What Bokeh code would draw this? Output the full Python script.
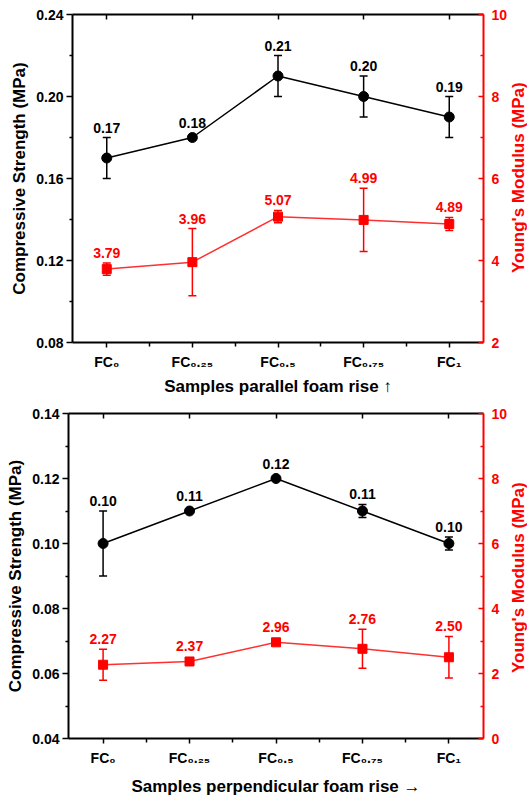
from bokeh.plotting import figure
from bokeh.models import Range1d, LinearAxis, FixedTicker, NumeralTickFormatter, Div
from bokeh.layouts import column, row
from bokeh.embed import file_html
from bokeh.resources import INLINE
from bokeh.core.properties import value

# ---------------- data ----------------
cat_x = [0, 1, 2, 3, 4]
cat_labels = ["FC\u2080", "FC\u2080.\u2082\u2085", "FC\u2080.\u2085", "FC\u2080.\u2087\u2085", "FC\u2081"]
cat_minor = [0.5, 1.5, 2.5, 3.5]

# parallel to foam rise (top panel)
par_cs = [0.17, 0.18, 0.21, 0.20, 0.19]
par_cs_err = [0.01, 0.0, 0.01, 0.01, 0.01]
par_cs_text = ["0.17", "0.18", "0.21", "0.20", "0.19"]
par_ym = [3.79, 3.96, 5.07, 4.99, 4.89]
par_ym_err = [0.15, 0.82, 0.15, 0.77, 0.16]
par_ym_text = ["3.79", "3.96", "5.07", "4.99", "4.89"]

# perpendicular to foam rise (bottom panel)
perp_cs = [0.10, 0.11, 0.12, 0.11, 0.10]
perp_cs_err = [0.01, 0.0, 0.0, 0.002, 0.002]
perp_cs_text = ["0.10", "0.11", "0.12", "0.11", "0.10"]
perp_ym = [2.27, 2.37, 2.96, 2.76, 2.50]
perp_ym_err = [0.48, 0.06, 0.05, 0.60, 0.64]
perp_ym_text = ["2.27", "2.37", "2.96", "2.76", "2.50"]

par_left_ticks = [0.08, 0.12, 0.16, 0.20, 0.24]
par_left_minor = [0.10, 0.14, 0.18, 0.22]
par_right_ticks = [2, 4, 6, 8, 10]
par_right_minor = [3, 5, 7, 9]
perp_left_ticks = [0.04, 0.06, 0.08, 0.10, 0.12, 0.14]
perp_left_minor = [0.05, 0.07, 0.09, 0.11, 0.13]
perp_right_ticks = [0, 2, 4, 6, 8, 10]
perp_right_minor = [1, 3, 5, 7, 9]

FONT = "Liberation Sans"
RED = "#ff0000"
BLACK = "#000000"


def add_series(p, vals, errs, texts, color, line_color, marker, size, scale, range_name=None):
    kw = {} if range_name is None else {"y_range_name": range_name}
    xs = [x for x, e in zip(cat_x, errs) if e > 0]
    lo = [v - e for v, e in zip(vals, errs) if e > 0]
    hi = [v + e for v, e in zip(vals, errs) if e > 0]
    p.segment(x0=xs, y0=lo, x1=xs, y1=hi, line_color=color, line_width=1.5, **kw)
    p.scatter(x=xs + xs, y=lo + hi, marker="dash", size=8, line_color=color, line_width=1.5, **kw)
    p.line(cat_x, vals, line_color=line_color, line_width=1.5, **kw)
    p.scatter(cat_x, vals, marker=marker, size=size, fill_color=color, line_color=color, **kw)
    offs = [-(max(e * scale, 5) + 10) for e in errs]
    p.text(x=cat_x, y=vals, text=texts, y_offset=offs, text_align="center",
           text_baseline="middle", text_color=color, text_font=value(FONT),
           text_font_style="bold", text_font_size="14px", **kw)


def style_text(obj, prefix, size, color):
    setattr(obj, prefix + "_text_font", FONT)
    setattr(obj, prefix + "_text_font_style", "bold")
    setattr(obj, prefix + "_text_font_size", size)
    setattr(obj, prefix + "_text_color", color)


def panel(width, height, borders, yl, yr, lt, lm, rt, rm, xlabel, xlab_standoff):
    bl, br, bt, bb = borders
    p = figure(width=width, height=height, x_range=Range1d(-0.4, 4.4), y_range=Range1d(*yl),
               output_backend="svg", toolbar_location=None,
               min_border_left=bl, min_border_right=br, min_border_top=bt, min_border_bottom=bb)
    p.extra_y_ranges = {"ym": Range1d(*yr)}
    p.grid.visible = False
    p.outline_line_color = None

    # left axis
    ax = p.yaxis[0]
    ax.ticker = FixedTicker(ticks=lt, minor_ticks=lm)
    ax.formatter = NumeralTickFormatter(format="0.00")
    ax.axis_line_width = 2
    ax.major_tick_out = 6
    ax.major_tick_in = 0
    ax.minor_tick_out = 3
    ax.minor_tick_in = 0
    ax.major_tick_line_width = 1.5
    ax.minor_tick_line_width = 1.5
    style_text(ax, "major_label", "14px", BLACK)
    ax.major_label_standoff = 3
    ax.axis_label = "Compressive Strength (MPa)"
    style_text(ax, "axis_label", "17px", BLACK)
    ax.axis_label_standoff = 4

    # right axis (ticks point inward)
    ra = LinearAxis(y_range_name="ym", ticker=FixedTicker(ticks=rt, minor_ticks=rm),
                    formatter=NumeralTickFormatter(format="0"))
    ra.axis_line_width = 2
    ra.axis_line_color = RED
    ra.major_tick_line_color = RED
    ra.minor_tick_line_color = RED
    ra.major_tick_out = 0
    ra.major_tick_in = 5
    ra.minor_tick_out = 0
    ra.minor_tick_in = 3
    ra.major_tick_line_width = 1.5
    ra.minor_tick_line_width = 1.5
    style_text(ra, "major_label", "14px", RED)
    ra.major_label_standoff = 8
    p.add_layout(ra, "right")

    # bottom axis
    bx = p.xaxis[0]
    bx.ticker = FixedTicker(ticks=cat_x, minor_ticks=cat_minor)
    bx.major_label_overrides = {x: t for x, t in zip(cat_x, cat_labels)}
    style_text(bx, "major_label", "14px", BLACK)
    bx.major_label_standoff = 6
    bx.axis_line_width = 2
    bx.major_tick_out = 5
    bx.major_tick_in = 0
    bx.minor_tick_out = 4
    bx.minor_tick_in = 0
    bx.major_tick_line_width = 1.5
    bx.minor_tick_line_width = 1.5
    bx.axis_label = xlabel
    style_text(bx, "axis_label", "17px", BLACK)
    bx.axis_label_standoff = xlab_standoff

    # top border with inward ticks
    tx = LinearAxis(ticker=FixedTicker(ticks=cat_x, minor_ticks=[]))
    tx.major_label_overrides = {x: "" for x in cat_x}
    tx.major_label_text_font_size = "1px"
    tx.major_label_standoff = 0
    tx.axis_line_width = 2
    tx.major_tick_out = 0
    tx.major_tick_in = 5
    tx.minor_tick_out = 0
    tx.minor_tick_in = 0
    tx.major_tick_line_width = 1.5
    p.add_layout(tx, "above")
    return p


def right_title(height):
    # right-hand axis title, reading bottom-to-top, centred on the plot frame
    return Div(text="Young's Modulus (MPa)", width=17, height=height, margin=(0, 0, 0, 0),
               styles={"writing-mode": "vertical-rl", "transform": "rotate(180deg)",
                       "text-align": "center", "font-family": FONT, "font-weight": "bold",
                       "font-size": "17px", "line-height": "17px", "color": RED,
                       "white-space": "nowrap", "overflow": "visible"})


# ---------------- top panel ----------------
p1 = panel(510, 398, (72, 27, 14, 56), (0.08, 0.24), (2, 10),
           par_left_ticks, par_left_minor, par_right_ticks, par_right_minor,
           "Samples parallel foam rise \u2191", 4)
add_series(p1, par_ym, par_ym_err, par_ym_text, RED, "#ff3030", "square", 9, 328 / 8, "ym")
add_series(p1, par_cs, par_cs_err, par_cs_text, BLACK, BLACK, "circle", 10, 328 / 0.16)

# ---------------- bottom panel ----------------
p2 = panel(510, 400, (68, 27, 15, 56), (0.04, 0.14), (0, 10),
           perp_left_ticks, perp_left_minor, perp_right_ticks, perp_right_minor,
           "Samples perpendicular foam rise \u2192", 8)
add_series(p2, perp_ym, perp_ym_err, perp_ym_text, RED, "#ff3030", "square", 9, 329 / 10, "ym")
add_series(p2, perp_cs, perp_cs_err, perp_cs_text, BLACK, BLACK, "circle", 10, 329 / 0.10)

layout = column(row(p1, right_title(356), spacing=0), row(p2, right_title(359), spacing=0), spacing=0)
open("out.html", "w").write(file_html(layout, INLINE))
